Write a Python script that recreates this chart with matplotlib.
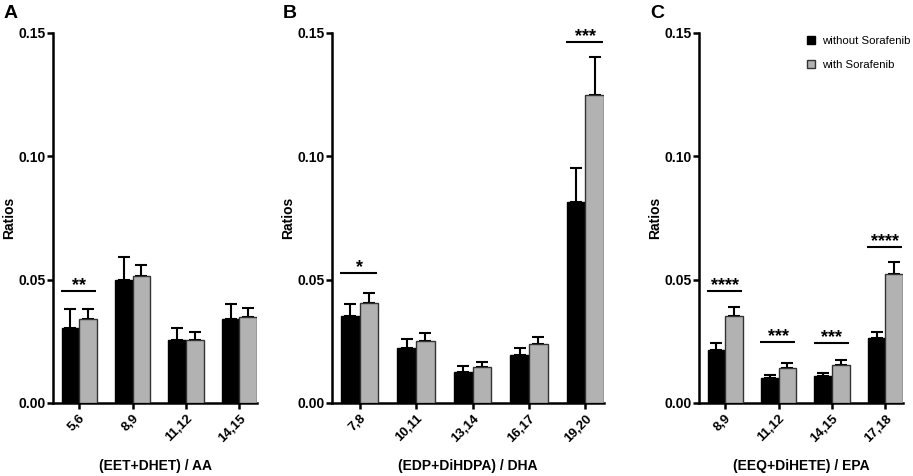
import numpy as np
import matplotlib
matplotlib.use('Agg')
import matplotlib.pyplot as plt
from matplotlib.lines import Line2D

plt.rcParams['font.family'] = ['Liberation Sans', 'DejaVu Sans']
plt.rcParams['font.weight'] = 'bold'

# ---- data ----
labels_a = ['5,6', '8,9', '11,12', '14,15']
without_a = [0.0305, 0.0499, 0.0257, 0.0339]
without_a_err = [0.0075, 0.0091, 0.0048, 0.0063]
with_a = [0.0340, 0.0513, 0.0257, 0.0350]
with_a_err = [0.0040, 0.0047, 0.0029, 0.0035]
sig_a = [(0, '**', 0.0455)]

labels_b = ['7,8', '10,11', '13,14', '16,17', '19,20']
without_b = [0.0351, 0.0225, 0.0127, 0.0196, 0.0816]
without_b_err = [0.0051, 0.0035, 0.0021, 0.0029, 0.0135]
with_b = [0.0405, 0.0250, 0.0146, 0.0240, 0.1248]
with_b_err = [0.0041, 0.0032, 0.0021, 0.0028, 0.0156]
sig_b = [(0, '*', 0.0526), (4, '***', 0.1463)]

labels_c = ['8,9', '11,12', '14,15', '17,18']
without_c = [0.0213, 0.0100, 0.0111, 0.0262]
without_c_err = [0.0030, 0.0012, 0.0012, 0.0027]
with_c = [0.0354, 0.0142, 0.0155, 0.0521]
with_c_err = [0.0034, 0.0020, 0.0021, 0.0051]
sig_c = [(0, '****', 0.0455), (1, '***', 0.0248), (2, '***', 0.0243), (3, '****', 0.0631)]

xlabels = ['(EET+DHET) / AA', '(EDP+DiHDPA) / DHA', '(EEQ+DiHETE) / EPA']
panel_letters = ['A', 'B', 'C']

fig = plt.figure(figsize=(9.13, 4.76), dpi=100)
bottom, top = 1 - 403 / 476, 1 - 33 / 476
boxes = [(53, 257), (332, 604), (699, 903)]
panels = [
    (labels_a, without_a, without_a_err, with_a, with_a_err, sig_a),
    (labels_b, without_b, without_b_err, with_b, with_b_err, sig_b),
    (labels_c, without_c, without_c_err, with_c, with_c_err, sig_c),
]

w = 0.33
gray = '#b2b2b2'
for k, (lab, wo, wo_e, wi, wi_e, sig) in enumerate(panels):
    l, r = boxes[k]
    ax = fig.add_axes([l / 913, bottom, (r - l) / 913, top - bottom])
    x = np.arange(len(lab))
    ax.bar(x - w / 2, wo, w, color='black', edgecolor='black', linewidth=1, zorder=3)
    ax.bar(x + w / 2, wi, w, color=gray, edgecolor='#333333', linewidth=1, zorder=3)
    ax.errorbar(x - w / 2, wo, yerr=[np.zeros(len(wo)), wo_e], fmt='none',
                ecolor='black', elinewidth=1.5, capsize=4, capthick=1.5, zorder=2)
    ax.errorbar(x + w / 2, wi, yerr=[np.zeros(len(wi)), wi_e], fmt='none',
                ecolor='black', elinewidth=1.5, capsize=4, capthick=1.5, zorder=2)
    for i, stars, yl in sig:
        ax.plot([i - w - 0.01, i + w - 0.02], [yl, yl], color='black', lw=1.5,
                solid_capstyle='butt')
        ax.annotate(stars, (i, yl), xytext=(0, 4), textcoords='offset points',
                    ha='center', va='center', fontsize=13, fontweight='bold')
    ax.set_xlim(-0.49, len(lab) - 1 + 0.33)
    ax.set_ylim(0, 0.15)
    ax.set_yticks([0, 0.05, 0.10, 0.15])
    ax.set_yticklabels(['0.00', '0.05', '0.10', '0.15'])
    ax.set_xticks(x)
    ax.set_xticklabels(lab, rotation=45, ha='right', rotation_mode='anchor')
    for s in ['top', 'right']:
        ax.spines[s].set_visible(False)
    for s in ['left', 'bottom']:
        ax.spines[s].set_linewidth(1.8)
    ax.tick_params(axis='y', width=1.8, length=4, labelsize=10, pad=1)
    ax.tick_params(axis='x', width=1.8, length=4, labelsize=9.5, pad=3)
    ax.set_ylabel('Ratios', fontsize=10, fontweight='bold', labelpad=2)
    ax.set_xlabel(xlabels[k], fontsize=10, fontweight='bold', labelpad=10)
    fig.text((l - 49) / 913, 1 - 13 / 476, panel_letters[k], fontsize=14,
             fontweight='bold', ha='left', va='center')
    if k == 2:
        handles = [
            Line2D([], [], marker='s', ls='none', markersize=5.5, markerfacecolor='black',
                   markeredgecolor='black'),
            Line2D([], [], marker='s', ls='none', markersize=5.5, markerfacecolor=gray,
                   markeredgecolor='#333333'),
        ]
        ax.legend(handles, ['without Sorafenib', 'with Sorafenib'],
                  loc='upper right', bbox_to_anchor=(1.085, 1.02), frameon=False,
                  prop={'size': 8.2, 'weight': 'normal'}, handletextpad=0.3,
                  labelspacing=1.25, handlelength=1.2)

fig.savefig('out.png', dpi=100)
